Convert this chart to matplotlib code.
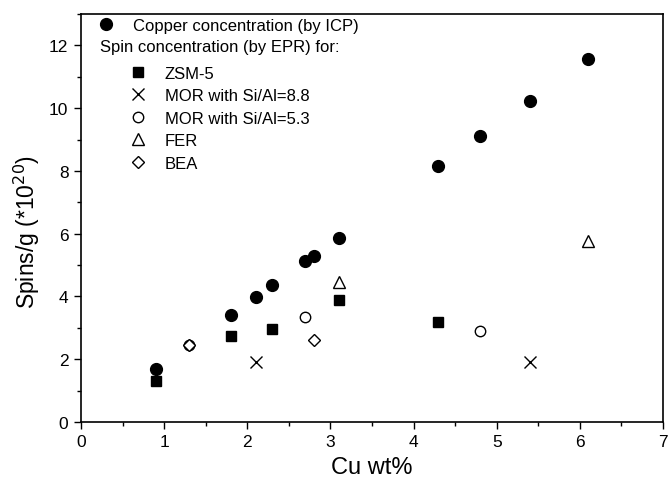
import matplotlib
matplotlib.use("Agg")
import matplotlib.pyplot as plt
from matplotlib.lines import Line2D
from matplotlib.ticker import MultipleLocator

plt.rcParams['font.family'] = ['Liberation Sans', 'DejaVu Sans']

# Daten
cu_x = [0.9, 1.8, 2.1, 2.3, 2.7, 2.8, 3.1, 4.3, 4.8, 5.4, 6.1]
cu_y = [1.7, 3.4, 3.97, 4.35, 5.12, 5.3, 5.87, 8.15, 9.1, 10.23, 11.57]

zsm_x = [0.9, 1.8, 2.3, 3.1, 4.3]
zsm_y = [1.3, 2.73, 2.95, 3.87, 3.17]

mor88_x = [2.1, 5.4]
mor88_y = [1.9, 1.9]

mor53_x = [1.3, 2.7, 4.8]
mor53_y = [2.45, 3.33, 2.9]

fer_x = [3.1, 6.1]
fer_y = [4.45, 5.78]

bea_x = [1.3, 2.8]
bea_y = [2.45, 2.6]

fig = plt.figure(figsize=(6.69, 4.85), dpi=100)
ax = fig.add_axes([0.121, 0.128, 0.870, 0.841])

ax.plot(cu_x, cu_y, 'o', color='black', markersize=8.5, linestyle='none')
ax.plot(zsm_x, zsm_y, 's', color='black', markersize=7, linestyle='none')
ax.plot(mor88_x, mor88_y, 'x', color='black', markersize=8, markeredgewidth=1.0, linestyle='none')
ax.plot(mor53_x, mor53_y, 'o', markerfacecolor='white', markeredgecolor='black', markersize=7.5, linestyle='none')
ax.plot(fer_x, fer_y, '^', markerfacecolor='white', markeredgecolor='black', markersize=8, linestyle='none')
ax.plot(bea_x, bea_y, 'D', markerfacecolor='white', markeredgecolor='black', markersize=6.5, linestyle='none')

ax.set_xlim(0, 7)
ax.set_ylim(0, 13)
ax.xaxis.set_major_locator(MultipleLocator(1))
ax.xaxis.set_minor_locator(MultipleLocator(0.5))
ax.yaxis.set_major_locator(MultipleLocator(2))
ax.yaxis.set_minor_locator(MultipleLocator(1))
ax.tick_params(which='major', direction='out', length=5, width=1, labelsize=12.5, pad=4)
ax.tick_params(which='minor', direction='out', length=3, width=1)
for s in ax.spines.values():
    s.set_linewidth(1.2)

ax.set_xlabel('Cu wt%', fontsize=17, labelpad=5)
ax.set_ylabel('Spins/g (*10$^{20}$)', fontsize=16.5)
ax.yaxis.set_label_coords(-0.067, 0.468)

# Legende
h_cu = Line2D([], [], marker='o', color='black', markersize=8.5, linestyle='none')
leg1 = ax.legend([h_cu], ['Copper concentration (by ICP)'], loc='upper left',
                 bbox_to_anchor=(0.003, 1.006), frameon=False, fontsize=12,
                 handletextpad=0.62, borderaxespad=0)
ax.add_artist(leg1)
ax.text(0.0326, 0.9216, 'Spin concentration (by EPR) for:', transform=ax.transAxes,
        fontsize=12, va='center', ha='left')

handles = [
    Line2D([], [], marker='s', color='black', markersize=7, linestyle='none'),
    Line2D([], [], marker='x', color='black', markersize=8, linestyle='none'),
    Line2D([], [], marker='o', markerfacecolor='white', markeredgecolor='black', markersize=7.5, linestyle='none'),
    Line2D([], [], marker='^', markerfacecolor='white', markeredgecolor='black', markersize=8, linestyle='none'),
    Line2D([], [], marker='D', markerfacecolor='white', markeredgecolor='black', markersize=6.5, linestyle='none'),
]
labels = ['ZSM-5', 'MOR with Si/Al=8.8', 'MOR with Si/Al=5.3', 'FER', 'BEA']
ax.legend(handles, labels, loc='upper left', bbox_to_anchor=(0.0577, 0.8897),
          frameon=False, fontsize=12, handletextpad=0.62, borderaxespad=0,
          labelspacing=0.45)

fig.savefig('out.png', dpi=100)
